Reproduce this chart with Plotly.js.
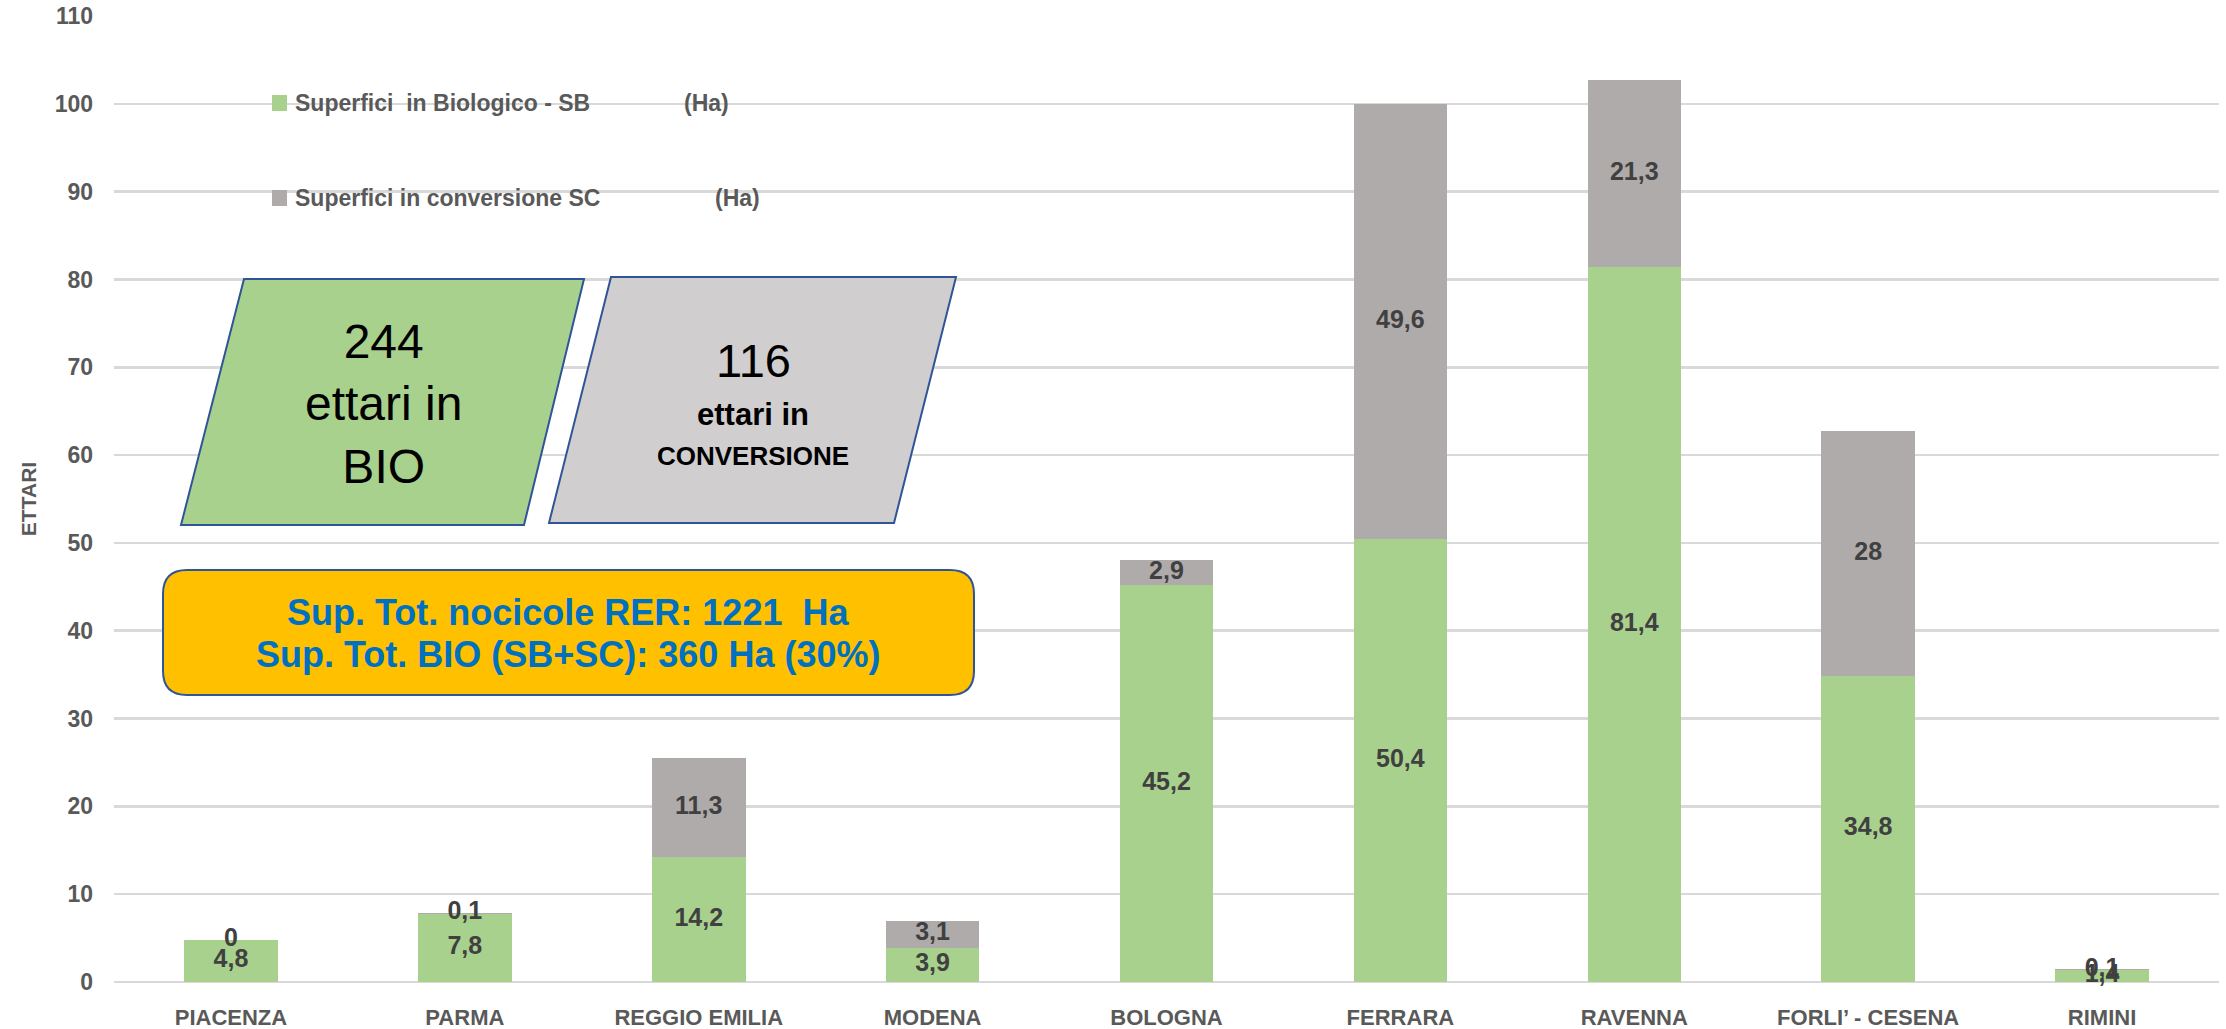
<!DOCTYPE html>
<html>
<head>
<meta charset="utf-8">
<script src="https://cdn.plot.ly/plotly-3.0.1.min.js"></script>
<style>html,body{margin:0;padding:0;background:#fff;}#chart{width:2226px;height:1029px;}</style>
</head>
<body>
<div id="chart"></div>
<script>
// ---- data ----
const categories = ["PIACENZA", "PARMA", "REGGIO EMILIA", "MODENA", "BOLOGNA", "FERRARA", "RAVENNA", "FORLI\u2019 - CESENA", "RIMINI"];
const biologicoSB = [4.8, 7.8, 14.2, 3.9, 45.2, 50.4, 81.4, 34.8, 1.4];
const conversioneSC = [0, 0.1, 11.3, 3.1, 2.9, 49.6, 21.3, 28, 0.1];
const seriesNames = ["Superfici&nbsp; in Biologico - SB", "Superfici in conversione SC"];
const yTicks = [0, 10, 20, 30, 40, 50, 60, 70, 80, 90, 100, 110];
const totalBIO = "244";
const totalSC = "116";
const boxLines = ["Sup. Tot. nocicole RER: 1221&nbsp; Ha", "Sup. Tot. BIO (SB+SC): 360 Ha (30%)"];

// ---- layout helpers ----
const W = 2226, H = 1029, ML = 114, MR = 7, MT = 16, MB = 47;
const PW = W - ML - MR, PH = H - MT - MB;
const px = x => (x - ML) / PW;
const py = y => (H - MB - y) / PH;
const FONT = "Liberation Sans, Arial, sans-serif";
const fmt = v => String(v).replace('.', ',');

const green = '#A9D18E', gray = '#AFABAB', labelCol = '#404040', axisCol = '#595959';

const traces = [
  {type: 'bar', x: categories, y: biologicoSB, name: seriesNames[0], marker: {color: green}, showlegend: false, hoverinfo: 'x+y'},
  {type: 'bar', x: categories, y: conversioneSC, name: seriesNames[1], marker: {color: gray}, showlegend: false, hoverinfo: 'x+y'},
  {type: 'scatter', mode: 'text', x: categories, y: biologicoSB.map(v => v / 2), text: biologicoSB.map(fmt),
   textfont: {family: FONT, size: 25, color: labelCol, weight: 700}, showlegend: false, cliponaxis: false, hoverinfo: 'skip'},
  {type: 'scatter', mode: 'text', x: categories, y: biologicoSB.map((v, i) => v + conversioneSC[i] / 2), text: conversioneSC.map(fmt),
   textfont: {family: FONT, size: 25, color: labelCol, weight: 700}, showlegend: false, cliponaxis: false, hoverinfo: 'skip'}
];

function poly(pts) {
  return 'M ' + pts.map(p => px(p[0]) + ',' + py(p[1])).join(' L ') + ' Z';
}
function roundRect(x0, y0, x1, y1, r) {
  const P = (x, y) => px(x) + ',' + py(y);
  return 'M ' + P(x0 + r, y0) + ' L ' + P(x1 - r, y0) + ' Q ' + P(x1, y0) + ' ' + P(x1, y0 + r) +
    ' L ' + P(x1, y1 - r) + ' Q ' + P(x1, y1) + ' ' + P(x1 - r, y1) +
    ' L ' + P(x0 + r, y1) + ' Q ' + P(x0, y1) + ' ' + P(x0, y1 - r) +
    ' L ' + P(x0, y0 + r) + ' Q ' + P(x0, y0) + ' ' + P(x0 + r, y0) + ' Z';
}

const border = '#2F5597';
const shapes = [
  // legend swatches
  {type: 'rect', xref: 'paper', yref: 'paper', x0: px(272), x1: px(287), y0: py(111), y1: py(95), fillcolor: green, line: {width: 0}},
  {type: 'rect', xref: 'paper', yref: 'paper', x0: px(272), x1: px(287), y0: py(206), y1: py(190), fillcolor: gray, line: {width: 0}},
  // parallelograms
  {type: 'path', xref: 'paper', yref: 'paper', path: poly([[244, 279], [584, 279], [524, 525], [181, 525]]), fillcolor: green, line: {color: border, width: 2}},
  {type: 'path', xref: 'paper', yref: 'paper', path: poly([[611, 277], [956, 277], [894, 523], [549, 523]]), fillcolor: '#D0CECE', line: {color: border, width: 2}},
  // orange box
  {type: 'path', xref: 'paper', yref: 'paper', path: roundRect(163, 570, 974, 695, 24), fillcolor: '#FFC000', line: {color: border, width: 2}}
];

const ann = (x, y, text, size, opts) => Object.assign({
  xref: 'paper', yref: 'paper', x: px(x), y: py(y), text: text, showarrow: false,
  xanchor: 'center', yanchor: 'middle', font: {family: FONT, size: size, color: '#000'}
}, opts || {});
const legFont = {family: FONT, size: 23, color: axisCol, weight: 700};
const boxFont = {family: FONT, size: 36, color: '#0070C0', weight: 700};

const annotations = [
  ann(293, 103, seriesNames[0], 23, {xanchor: 'left', font: legFont}),
  ann(682, 103, '(Ha)', 23, {xanchor: 'left', font: legFont}),
  ann(293, 198, seriesNames[1], 23, {xanchor: 'left', font: legFont}),
  ann(713, 198, '(Ha)', 23, {xanchor: 'left', font: legFont}),
  ann(383, 404, totalBIO + '<br>ettari in<br>BIO', 48),
  ann(753, 360, totalSC, 47),
  ann(753, 415, 'ettari in', 31, {font: {family: FONT, size: 31, color: '#000', weight: 700}}),
  ann(753, 456, 'CONVERSIONE', 26, {font: {family: FONT, size: 26, color: '#000', weight: 700}}),
  ann(568, 612, boxLines[0], 36, {font: boxFont}),
  ann(568, 654, boxLines[1], 36, {font: boxFont})
];

const layout = {
  width: W, height: H,
  margin: {l: ML, r: MR, t: MT, b: MB, pad: 0},
  paper_bgcolor: '#fff', plot_bgcolor: '#fff',
  barmode: 'stack', bargap: 0.6,
  showlegend: false,
  xaxis: {
    type: 'category', showgrid: false, zeroline: false, showline: false, ticks: '',
    tickfont: {family: FONT, size: 22, color: axisCol, weight: 700}, ticklabelstandoff: 20
  },
  yaxis: {
    range: [0, 110], tickvals: yTicks, ticktext: yTicks.map(String),
    showgrid: true, gridcolor: '#D9D9D9', gridwidth: 2.5, zeroline: true, zerolinecolor: '#D9D9D9', zerolinewidth: 2.5,
    showline: false, ticks: '',
    tickfont: {family: FONT, size: 23, color: axisCol, weight: 700}, ticklabelstandoff: 20,
    title: {text: 'ETTARI', font: {family: FONT, size: 21, color: axisCol, weight: 700}, standoff: 12}
  },
  shapes: shapes,
  annotations: annotations
};

Plotly.newPlot('chart', traces, layout, {displayModeBar: false, staticPlot: true});
</script>
</body>
</html>
